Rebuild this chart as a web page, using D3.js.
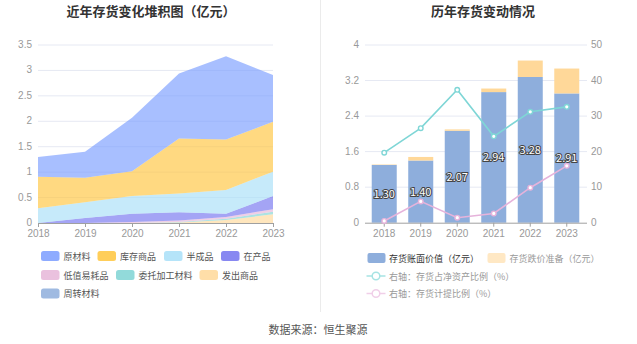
<!DOCTYPE html>
<html><head><meta charset="utf-8">
<script src="https://cdn.jsdelivr.net/npm/d3@7"></script>
<style>
body{margin:0;background:#fff;}
svg{display:block;font-family:"Noto Sans CJK SC","Noto Sans",sans-serif;}
</style></head>
<body><svg id="c" width="637" height="344"></svg>
<script>
const years = ["2018","2019","2020","2021","2022","2023"];
// stacked inventory components (亿元)
const yuancailiao   = [0.39, 0.51, 1.05, 1.28, 1.64, 0.92];
const kucunshangpin = [0.62, 0.48, 0.49, 1.08, 0.99, 0.98];
const banchengpin   = [0.29, 0.31, 0.35, 0.37, 0.47, 0.48];
const zaichanpin    = [0.00, 0.10, 0.16, 0.16, 0.06, 0.26];
const dizhiyihaopin = [0.00, 0.00, 0.02, 0.03, 0.035, 0.05];
const weituojiagong = [0.00, 0.00, 0.00, 0.01, 0.025, 0.05];
const fachushangpin = [0.00, 0.00, 0.00, 0.01, 0.06, 0.17];
const zhouzhuancailiao = [0, 0, 0, 0, 0, 0];
const leftTicks = [0, 0.5, 1, 1.5, 2, 2.5, 3, 3.5];

// right chart
const bookValue = [1.30, 1.40, 2.07, 2.94, 3.28, 2.91];
const provision = [0.01, 0.08, 0.03, 0.08, 0.37, 0.56];
const ratioNetAssets = [19.7, 26.6, 37.4, 24.3, 31.2, 32.6];
const ratioProvision = [0.5, 6.0, 1.4, 2.6, 9.85, 16.0];
const rightLeftTicks = [0, 0.8, 1.6, 2.4, 3.2, 4];
const rightRightTicks = [0, 10, 20, 30, 40, 50];

const svg = d3.select("#c");
const gridC = "#e6e9f3", axisC = "#a0a0a0", tickTxt = "#999";
const numFont = "'Liberation Sans',Arial,sans-serif";

// titles
svg.append("text").attr("x",151).attr("y",16).attr("text-anchor","middle")
  .attr("font-size",13).attr("font-weight","bold").attr("fill","#333").text("近年存货变化堆积图（亿元）");
svg.append("text").attr("x",483).attr("y",16).attr("text-anchor","middle")
  .attr("font-size",13).attr("font-weight","bold").attr("fill","#333").text("历年存货变动情况");
svg.append("line").attr("x1",320.5).attr("x2",320.5).attr("y1",0).attr("y2",312).attr("stroke","#ebebeb");
svg.append("text").attr("x",318).attr("y",334).attr("text-anchor","middle")
  .attr("font-size",11).attr("fill","#555").text("数据来源：恒生聚源");

// ---------- LEFT ----------
const series = [
  {name:"原材料", vals:yuancailiao, color:"#7a9cff"},
  {name:"库存商品", vals:kucunshangpin, color:"#ffc53d"},
  {name:"半成品", vals:banchengpin, color:"#a8dff8"},
  {name:"在产品", vals:zaichanpin, color:"#7373ef"},
  {name:"低值易耗品", vals:dizhiyihaopin, color:"#e6b6d8"},
  {name:"委托加工材料", vals:weituojiagong, color:"#7fd4d4"},
  {name:"发出商品", vals:fachushangpin, color:"#ffd899"},
  {name:"周转材料", vals:zhouzhuancailiao, color:"#8eaedc"}
];
const xL = d3.scalePoint().domain(years).range([38,273]);
const yL = d3.scaleLinear().domain([0,3.5]).range([223,45]);
const gL = svg.append("g");
leftTicks.forEach(t=>{
  if(t>0) gL.append("line").attr("x1",38).attr("x2",273).attr("y1",yL(t)).attr("y2",yL(t)).attr("stroke",gridC);
  gL.append("text").attr("x",32).attr("y",yL(t)+3).attr("text-anchor","end").attr("font-size",10)
    .attr("font-family",numFont).attr("fill",tickTxt).text(t);
});
const table = years.map((y,i)=>{const o={year:y}; series.forEach(s=>o[s.name]=s.vals[i]); return o;});
const stackOrder = series.slice().reverse().map(s=>s.name); // bottom first
const stacked = d3.stack().keys(stackOrder)(table);
const area = d3.area().x(d=>xL(d.data.year)).y0(d=>yL(d[0])).y1(d=>yL(d[1]));
stacked.forEach(layer=>{
  const s = series.find(v=>v.name===layer.key);
  gL.append("path").datum(layer).attr("d",area).attr("fill",s.color).attr("fill-opacity",0.65);
});
const axL = gL.append("g").attr("transform","translate(0,223)").call(d3.axisBottom(xL).tickSize(4).tickPadding(3));
axL.select(".domain").attr("stroke",axisC);
axL.selectAll("line").attr("stroke",axisC);
axL.selectAll("text").attr("fill",tickTxt).attr("font-size",10).attr("font-family",numFont);
// legend
const legPos = [[41,256],[97.5,256],[164,256],[221,256],[41,275],[116,275],[199.5,275],[41,293.5]];
series.forEach((s,i)=>{
  const [lx,ly]=legPos[i];
  gL.append("rect").attr("x",lx).attr("y",ly-5).attr("width",18.5).attr("height",10).attr("rx",2.5).attr("fill",s.color).attr("fill-opacity",0.85);
  gL.append("text").attr("x",lx+22.5).attr("y",ly+3.5).attr("font-size",9).attr("fill","#555").text(s.name);
});

// ---------- RIGHT ----------
const xR = d3.scaleBand().domain(years).range([366,585]).paddingInner(0.315).paddingOuter(0.157);
const yR = d3.scaleLinear().domain([0,4]).range([222.7,45]);
const yR2 = d3.scaleLinear().domain([0,50]).range([222.7,45]);
const gR = svg.append("g");
rightLeftTicks.forEach((t,i)=>{
  if(t>0) gR.append("line").attr("x1",365).attr("x2",587).attr("y1",yR(t)).attr("y2",yR(t)).attr("stroke",gridC);
  gR.append("text").attr("x",359).attr("y",yR(t)+3).attr("text-anchor","end").attr("font-size",10)
    .attr("font-family",numFont).attr("fill",tickTxt).text(t);
});
rightRightTicks.forEach(t=>{
  gR.append("text").attr("x",591).attr("y",yR2(t)+3).attr("text-anchor","start").attr("font-size",10)
    .attr("font-family",numFont).attr("fill",tickTxt).text(t);
});
const barBlue="#8eaedc", barOrange="#ffd899";
years.forEach((y,i)=>{
  gR.append("rect").attr("x",xR(y)).attr("width",xR.bandwidth()).attr("y",yR(bookValue[i])).attr("height",yR(0)-yR(bookValue[i])).attr("fill",barBlue);
  gR.append("rect").attr("x",xR(y)).attr("width",xR.bandwidth()).attr("y",yR(bookValue[i]+provision[i])).attr("height",yR(bookValue[i])-yR(bookValue[i]+provision[i])).attr("fill",barOrange);
});
const axR = gR.append("g").attr("transform","translate(0,222.7)").call(d3.axisBottom(xR).tickSize(4).tickPadding(3));
axR.select(".domain").attr("stroke",axisC).attr("d","M365,0.5H587");
axR.selectAll("line").attr("stroke",axisC);
axR.selectAll("text").attr("fill",tickTxt).attr("font-size",10).attr("font-family",numFont);
const cx = y=>xR(y)+xR.bandwidth()/2;
const lineGen = vals=>d3.line().x((d,i)=>cx(years[i])).y(d=>yR2(d))(vals);
const teal="#7fd6d6", pink="#e6b3db";
[[ratioNetAssets,teal],[ratioProvision,pink]].forEach(([vals,c])=>{
  gR.append("path").attr("d",lineGen(vals)).attr("fill","none").attr("stroke",c).attr("stroke-width",1.6);
  vals.forEach((v,i)=>gR.append("circle").attr("cx",cx(years[i])).attr("cy",yR2(v)).attr("r",2.3).attr("fill","#fff").attr("stroke",c).attr("stroke-width",1.4));
});
years.forEach((y,i)=>{
  gR.append("text").attr("x",cx(y)).attr("y",(yR(0)+yR(bookValue[i]))/2+4).attr("text-anchor","middle")
    .attr("font-size",11).attr("fill","#fff").attr("stroke","#444").attr("stroke-width",2).attr("paint-order","stroke")
    .text(bookValue[i].toFixed(2));
});
// legend right
gR.append("rect").attr("x",367.5).attr("y",253).attr("width",18).attr("height",10).attr("rx",2).attr("fill",barBlue);
gR.append("text").attr("x",389).attr("y",261.5).attr("font-size",9).attr("fill","#333").text("存货账面价值（亿元）");
gR.append("rect").attr("x",487.5).attr("y",253).attr("width",18).attr("height",10).attr("rx",2).attr("fill","#ffe8c4");
gR.append("text").attr("x",509.5).attr("y",261.5).attr("font-size",9).attr("fill","#999").text("存货跌价准备（亿元）");
[[276,"#a6e3e3","右轴：存货占净资产比例（%）"],[293.5,"#f0cfe8","右轴：存货计提比例（%）"]].forEach(([ly,c,t])=>{
  gR.append("line").attr("x1",366.5).attr("x2",385.5).attr("y1",ly).attr("y2",ly).attr("stroke",c).attr("stroke-width",1.5);
  gR.append("circle").attr("cx",376).attr("cy",ly).attr("r",3.8).attr("fill","#fff").attr("stroke",c).attr("stroke-width",1.5);
  gR.append("text").attr("x",389).attr("y",ly+3.5).attr("font-size",9).attr("fill","#999").text(t);
});
</script></body></html>
